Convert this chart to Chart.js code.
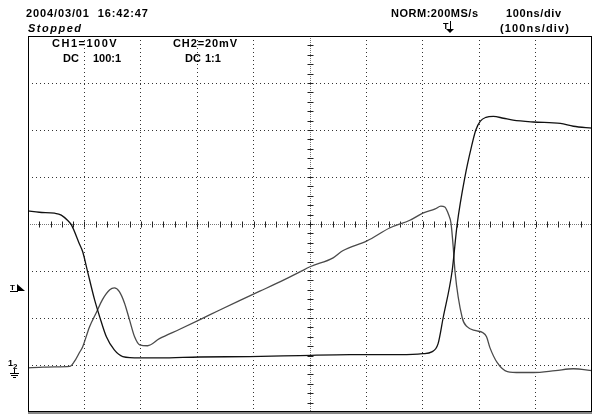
<!DOCTYPE html>
<html><head><meta charset="utf-8">
<script src="https://cdn.jsdelivr.net/npm/chart.js@4.4.1/dist/chart.umd.min.js"></script>
<style>
html,body{margin:0;padding:0;background:#fff;}
#wrap{position:relative;width:592px;height:416px;overflow:hidden;background:#fff;}
canvas{position:absolute;left:0;top:0;}
.t{position:absolute;font-family:"Liberation Sans",Arial,sans-serif;font-weight:bold;font-size:11px;line-height:11px;color:#000;white-space:pre;letter-spacing:0px;}
.i{font-style:italic;}
</style></head><body>
<div id="wrap">
<canvas id="c" width="592" height="416"></canvas>
<div class="t" data-w="122" style="left:26px;top:8px">2004/03/01  16:42:47</div>
<div class="t i" data-w="54" style="left:28px;top:23px">Stopped</div>
<div class="t" data-w="68" style="left:52px;top:38px">CH1=100V</div>
<div class="t" data-w="15" style="left:63px;top:53px">DC</div>
<div class="t" data-w="28" style="left:93px;top:53px">100:1</div>
<div class="t" data-w="64" style="left:173px;top:38px">CH2=20mV</div>
<div class="t" data-w="15" style="left:185px;top:53px">DC</div>
<div class="t" data-w="15" style="left:205px;top:53px">1:1</div>
<div class="t" data-w="87" style="left:391px;top:8px">NORM:200MS/s</div>
<div class="t" data-w="55" style="left:506px;top:8px">100ns/div</div>
<div class="t" data-w="69" style="left:500px;top:23px">(100ns/div)</div>
</div>
<script>
// time in ns (0 = left edge of screen), amplitude in screen divisions
const ch1Time = [0,20,47,59,70,77,91,97,105,118,127,139,153,168,198,233,304,393,482,571,660,700,716,727,736,752,761,775,786,794,802,812,825,843,860,896,944,967,1000];
const ch1Div  = [0.28,0.25,0.23,0.19,0.08,-0.02,-0.42,-0.59,-0.98,-1.61,-1.97,-2.40,-2.68,-2.82,-2.85,-2.85,-2.83,-2.82,-2.80,-2.78,-2.78,-2.76,-2.72,-2.55,-2.00,-1.00,0.00,1.02,1.63,2.00,2.19,2.27,2.29,2.25,2.21,2.17,2.14,2.08,2.04];
const ch2Time = [0,20,47,74,82,91,97,109,121,132,145,153,162,171,180,189,198,212,233,269,304,340,375,411,452,482,500,541,558,601,642,677,700,722,732,739,746,750,754,757,770,779,794,806,813,819,832,850,873,896,935,967,1000];
const ch2Div  = [-3.06,-3.05,-3.04,-3.03,-2.93,-2.74,-2.61,-2.19,-1.89,-1.61,-1.40,-1.36,-1.44,-1.68,-2.04,-2.40,-2.57,-2.59,-2.44,-2.24,-2.04,-1.83,-1.63,-1.43,-1.20,-1.02,-0.91,-0.72,-0.57,-0.36,-0.08,0.08,0.23,0.32,0.38,0.36,0.19,0.02,-0.50,-1.00,-2.00,-2.19,-2.27,-2.31,-2.40,-2.63,-2.95,-3.14,-3.16,-3.16,-3.12,-3.08,-3.12];
const xTicks = [0,100,200,300,400,500,600,700,800,900,1000];
const yTicks = [-4,-3,-2,-1,0,1,2,3,4];
const triggerLevel = -1.35;
const groundLevel = -3.0;
const triggerPos = 745;

// fit the readout text widths (scope font is wider spaced), clamped
document.querySelectorAll('.t[data-w]').forEach(el => {
  const target = parseFloat(el.dataset.w);
  const n = el.textContent.length;
  const w = el.getBoundingClientRect().width;
  if (n > 1) {
    const s = Math.max(0, Math.min(1.5, (target - w) / (n - 1)));
    el.style.letterSpacing = s.toFixed(2) + 'px';
  }
});

const scopePlugin = {
  id: 'scope',
  beforeDatasetsDraw(chart) {
    const {ctx, chartArea: a, scales: {x, y}} = chart;
    const cx = Math.round(x.getPixelForValue(500)) + 0.5;
    const cy = Math.round(y.getPixelForValue(0)) + 0.5;
    ctx.save();
    ctx.lineWidth = 1;
    ctx.strokeStyle = '#777';
    ctx.setLineDash([1, 1]);
    ctx.beginPath();
    ctx.moveTo(a.left, cy); ctx.lineTo(a.right, cy);
    ctx.moveTo(cx, a.top); ctx.lineTo(cx, a.bottom);
    ctx.stroke();
    ctx.setLineDash([]);
    ctx.strokeStyle = '#222';
    ctx.beginPath();
    for (let i = 1; i < 50; i++) {
      const px = Math.round(x.getPixelForValue(i * 20)) + 0.5;
      ctx.moveTo(px, cy - 3); ctx.lineTo(px, cy + 3);
    }
    for (let i = -19; i <= 19; i++) {
      const py = Math.round(y.getPixelForValue(i / 5)) + 0.5;
      ctx.moveTo(cx - 3, py); ctx.lineTo(cx + 3, py);
    }
    ctx.stroke();
    ctx.restore();
  },
  afterDraw(chart) {
    const {ctx, chartArea: a, scales: {x, y}} = chart;
    ctx.save();
    ctx.strokeStyle = '#000';
    ctx.lineWidth = 1;
    ctx.strokeRect(a.left + 0.5, a.top + 0.5, a.right - a.left - 1, a.bottom - a.top - 1);
    ctx.strokeStyle = '#888';
    ctx.beginPath();
    ctx.moveTo(a.left, a.bottom + 0.5); ctx.lineTo(a.right, a.bottom + 0.5);
    ctx.moveTo(a.left, a.bottom + 1.5); ctx.lineTo(a.right, a.bottom + 1.5);
    ctx.stroke();
    // trigger level marker
    const ty = Math.round(y.getPixelForValue(triggerLevel));
    ctx.fillStyle = '#000';
    ctx.font = 'bold 8px "Liberation Sans", Arial, sans-serif';
    ctx.textBaseline = 'alphabetic';
    ctx.fillText('T', 10, ty + 3);
    ctx.fillRect(10, ty + 4, 8, 1);
    ctx.beginPath();
    ctx.moveTo(17, ty - 3); ctx.lineTo(25, ty + 4); ctx.lineTo(17, ty + 4); ctx.closePath();
    ctx.fill();
    // ground marker
    const gy = Math.round(y.getPixelForValue(groundLevel));
    ctx.font = 'bold 9px "Liberation Sans", Arial, sans-serif';
    ctx.fillText('1', 8, gy + 1);
    ctx.font = 'bold 8px "Liberation Sans", Arial, sans-serif';
    ctx.fillText('2', 13, gy + 4);
    ctx.fillRect(14, gy + 4, 1, 4);
    ctx.fillRect(10, gy + 8, 9, 1);
    ctx.fillRect(11, gy + 10, 7, 1);
    ctx.fillRect(13, gy + 12, 3, 1);
    // trigger position marker
    const tx = Math.round(x.getPixelForValue(triggerPos));
    ctx.font = 'bold 9px "Liberation Sans", Arial, sans-serif';
    ctx.fillText('T', tx - 5, 29);
    ctx.fillRect(tx + 2, 21, 1, 8);
    ctx.beginPath();
    ctx.moveTo(tx - 2, 29); ctx.lineTo(tx + 6, 29); ctx.lineTo(tx + 2, 33); ctx.closePath();
    ctx.fill();
    ctx.restore();
  }
};

const gridOpts = {color: '#333', lineWidth: 1, drawTicks: false};
new Chart(document.getElementById('c'), {
  type: 'line',
  data: {
    datasets: [
      {label: 'CH1', data: ch1Time.map((t, i) => ({x: t, y: ch1Div[i]})), borderColor: '#111', borderWidth: 1.3, pointRadius: 0, cubicInterpolationMode: 'monotone', fill: false},
      {label: 'CH2', data: ch2Time.map((t, i) => ({x: t, y: ch2Div[i]})), borderColor: '#4a4a4a', borderWidth: 1.3, pointRadius: 0, cubicInterpolationMode: 'monotone', fill: false}
    ]
  },
  options: {
    responsive: false,
    animation: false,
    devicePixelRatio: 1,
    layout: {padding: {left: 28, top: 36, right: 0, bottom: 4}},
    plugins: {legend: {display: false}, tooltip: {enabled: false}, title: {display: false}},
    scales: {
      x: {type: 'linear', min: 0, max: 1000,
          afterBuildTicks: s => { s.ticks = xTicks.map(v => ({value: v})); },
          ticks: {display: false}, grid: gridOpts, border: {display: false, dash: [1, 3]}},
      y: {type: 'linear', min: -4, max: 4,
          afterBuildTicks: s => { s.ticks = yTicks.map(v => ({value: v})); },
          ticks: {display: false}, grid: gridOpts, border: {display: false, dash: [1, 3]}}
    }
  },
  plugins: [scopePlugin]
});
</script>
</body></html>
